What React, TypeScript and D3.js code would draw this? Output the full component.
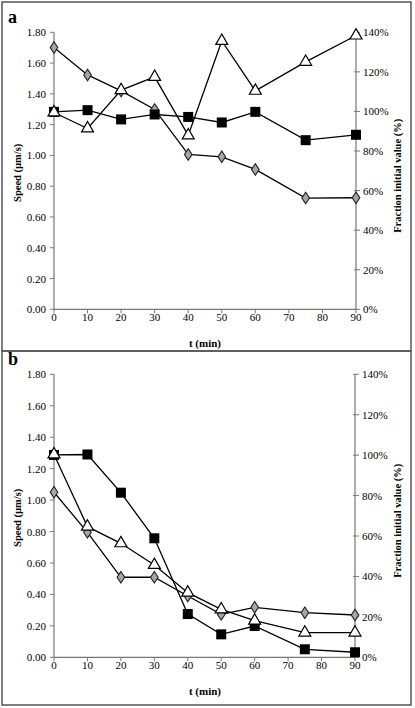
import React from "react";
import * as d3 from "d3";

const times = [0, 10, 20, 30, 40, 50, 60, 75, 90];
const xTicks = [0, 10, 20, 30, 40, 50, 60, 70, 80, 90];
const yTicks = [0, 0.2, 0.4, 0.6, 0.8, 1.0, 1.2, 1.4, 1.6, 1.8];
const pctTicks = [0, 20, 40, 60, 80, 100, 120, 140];

const aSquares = [1.283, 1.294, 1.234, 1.266, 1.25, 1.214, 1.283, 1.099, 1.134];
const aDiamonds = [1.701, 1.523, 1.419, 1.299, 1.006, 0.991, 0.909, 0.723, 0.725];
const aTriangles = [1.279, 1.175, 1.424, 1.51, 1.13, 1.744, 1.42, 1.608, 1.779];

const bSquares = [1.287, 1.29, 1.047, 0.757, 0.275, 0.146, 0.199, 0.051, 0.032];
const bDiamonds = [1.05, 0.795, 0.509, 0.509, 0.39, 0.273, 0.318, 0.284, 0.269];
const bTriangles = [1.29, 0.831, 0.725, 0.587, 0.411, 0.305, 0.233, 0.157, 0.157];

const FONT = "'Liberation Serif', 'DejaVu Serif', serif";

type PanelProps = {
  label: string;
  top: number;
  bottom: number;
  left: number;
  right: number;
  squares: number[];
  diamonds: number[];
  triangles: number[];
};

function Panel({ label, top, bottom, left, right, squares, diamonds, triangles }: PanelProps) {
  const x = d3.scaleLinear().domain([0, 90]).range([left, right]);
  const y = d3.scaleLinear().domain([0, 1.8]).range([bottom, top]);
  const yp = d3.scaleLinear().domain([0, 140]).range([bottom, top]);
  const line = d3
    .line<number>()
    .x((_, i) => x(times[i]))
    .y((d) => y(d));
  const axisColor = "#777";
  const midY = (top + bottom) / 2;
  const tri = d3.symbol().type(d3.symbolTriangle).size(62)();
  const diamond = d3.symbol().type(d3.symbolDiamond).size(38)();
  return (
    <g>
      <text x={8} y={top - 9} fontFamily={FONT} fontWeight="bold" fontSize={18}>
        {label}
      </text>
      {/* left axis */}
      <line x1={left} x2={left} y1={top} y2={bottom} stroke={axisColor} strokeWidth={1.2} />
      {yTicks.map((t) => (
        <g key={"l" + t}>
          <line x1={left - 4} x2={left} y1={y(t)} y2={y(t)} stroke={axisColor} strokeWidth={1} />
          <text x={left - 8} y={y(t) + 4} textAnchor="end" fontFamily={FONT} fontSize={11}>
            {t.toFixed(2)}
          </text>
        </g>
      ))}
      {/* right axis */}
      <line x1={right} x2={right} y1={top} y2={bottom} stroke={axisColor} strokeWidth={1.2} />
      {pctTicks.map((t) => (
        <g key={"r" + t}>
          <line x1={right - 2} x2={right + 4} y1={yp(t)} y2={yp(t)} stroke={axisColor} strokeWidth={1} />
          <text x={right + 7} y={yp(t) + 4} textAnchor="start" fontFamily={FONT} fontSize={11}>
            {t + "%"}
          </text>
        </g>
      ))}
      {/* x axis */}
      <line x1={left} x2={right} y1={bottom} y2={bottom} stroke={axisColor} strokeWidth={1.2} />
      {xTicks.map((t) => (
        <g key={"x" + t}>
          <line x1={x(t)} x2={x(t)} y1={bottom} y2={bottom + 4} stroke={axisColor} strokeWidth={1} />
          <text x={x(t)} y={bottom + 12} textAnchor="middle" fontFamily={FONT} fontSize={11}>
            {t}
          </text>
        </g>
      ))}
      <text x={205} y={bottom + 38} textAnchor="middle" fontFamily={FONT} fontWeight="bold" fontSize={11}>
        t (min)
      </text>
      <text
        transform={`translate(21,${midY + 2}) rotate(-90)`}
        textAnchor="middle"
        fontFamily={FONT}
        fontWeight="bold"
        fontSize={10.5}
      >
        Speed (µm/s)
      </text>
      <text
        transform={`translate(401,${midY + 5}) rotate(-90)`}
        textAnchor="middle"
        fontFamily={FONT}
        fontWeight="bold"
        fontSize={10.5}
      >
        Fraction initial value (%)
      </text>
      {/* series */}
      <path d={line(diamonds) || ""} fill="none" stroke="#000" strokeWidth={1.3} />
      <path d={line(squares) || ""} fill="none" stroke="#000" strokeWidth={1.3} />
      <path d={line(triangles) || ""} fill="none" stroke="#000" strokeWidth={1.3} />
      {diamonds.map((d, i) => (
        <path
          key={"d" + i}
          d={diamond || ""}
          transform={`translate(${x(times[i])},${y(d)}) scale(1.15,1)`}
          fill="#a6a6a6"
          stroke="#222"
          strokeWidth={1}
        />
      ))}
      {squares.map((d, i) => (
        <rect key={"s" + i} x={x(times[i]) - 5} y={y(d) - 5} width={10} height={10} fill="#000" />
      ))}
      {triangles.map((d, i) => (
        <path
          key={"t" + i}
          d={tri || ""}
          transform={`translate(${x(times[i])},${y(d)})`}
          fill="#fff"
          stroke="#000"
          strokeWidth={1.2}
        />
      ))}
    </g>
  );
}

export default function App() {
  return (
    <svg
      width={415}
      height={708}
      style={{ position: "absolute", left: 0, top: 0, background: "#fff" }}
    >
      <rect x={0} y={0} width={415} height={708} fill="#fff" />
      <rect x={2} y={2} width={409} height={349} fill="none" stroke="#555" strokeWidth={1.5} />
      <rect x={2} y={351} width={409} height={354} fill="none" stroke="#555" strokeWidth={1.5} />
      <Panel
        label="a"
        top={32.3}
        bottom={309.3}
        left={54}
        right={356}
        squares={aSquares}
        diamonds={aDiamonds}
        triangles={aTriangles}
      />
      <Panel
        label="b"
        top={374.3}
        bottom={657.3}
        left={54}
        right={355}
        squares={bSquares}
        diamonds={bDiamonds}
        triangles={bTriangles}
      />
    </svg>
  );
}
